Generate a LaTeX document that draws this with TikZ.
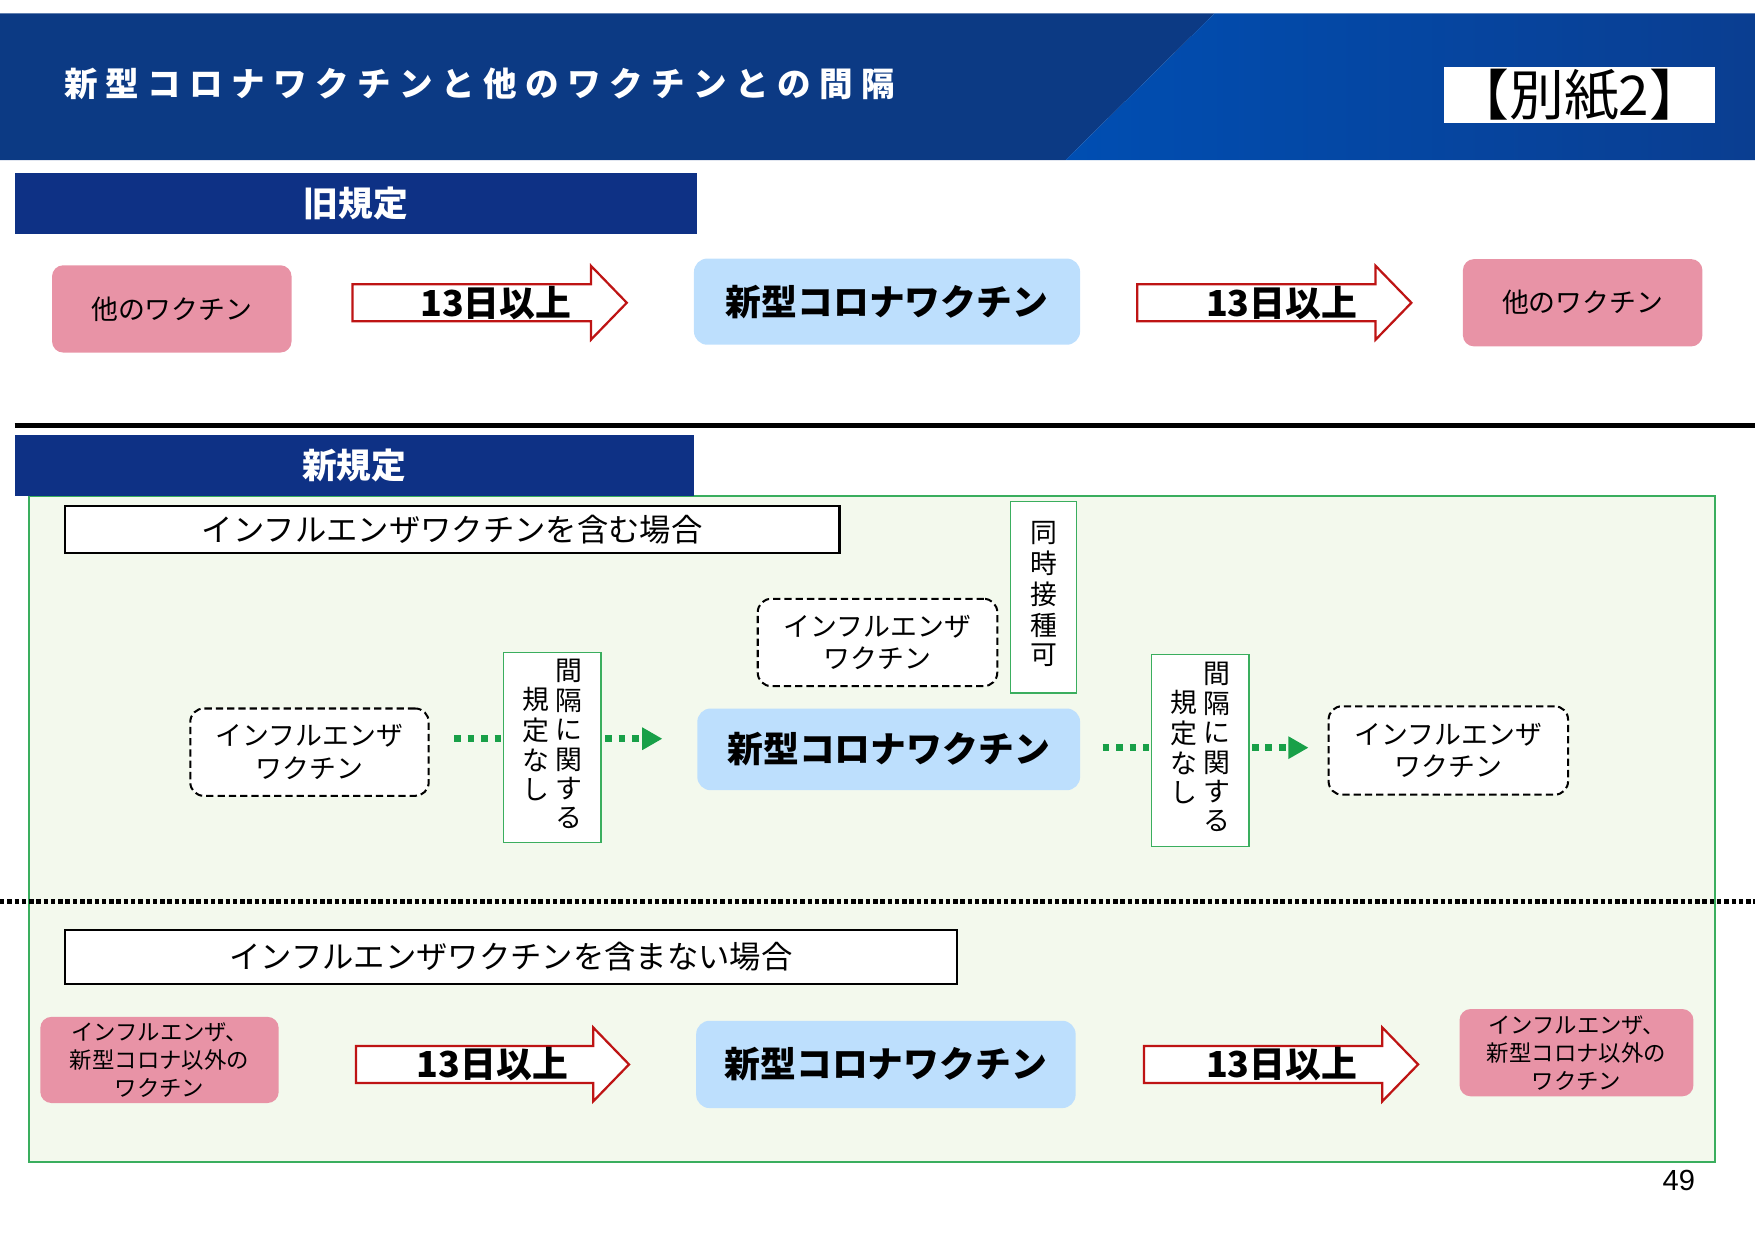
\documentclass[tikz,border=0pt]{standalone}
\usepackage{fontspec}
\setmainfont{Noto Sans CJK JP}
\newfontfamily\latinfont{Liberation Sans}
\usetikzlibrary{arrows.meta}

\definecolor{bannerdark}{RGB}{12,58,132}
\definecolor{bannerlight}{RGB}{0,78,178}
\definecolor{bannerright}{RGB}{10,62,145}
\definecolor{navy}{RGB}{14,49,133}
\definecolor{pinkbox}{RGB}{232,147,166}
\definecolor{skyblue}{RGB}{189,223,253}
\definecolor{framegreen}{RGB}{58,174,94}
\definecolor{palegreen}{RGB}{243,249,237}
\definecolor{dotgreen}{RGB}{24,160,72}
\definecolor{arrowred}{RGB}{190,20,20}

\tikzstyle{head}=[rectangle,fill=navy,text=white,inner sep=0,minimum width=610pt,minimum height=54pt,font=\bfseries\fontsize{31}{31}\selectfont]
\tikzstyle{other}=[rectangle,rounded corners=10pt,fill=pinkbox,inner sep=0,align=center,minimum width=214pt,minimum height=78pt]
\tikzstyle{covid}=[rectangle,rounded corners=12pt,fill=skyblue,inner sep=0,minimum height=77pt,font=\bfseries\fontsize{32}{32}\selectfont]
\tikzstyle{days}=[inner sep=0,font=\bfseries\fontsize{32}{32}\selectfont]
\tikzstyle{bigarrow}=[draw=arrowred,line width=2pt,fill=white,line join=miter]
\tikzstyle{case}=[rectangle,draw,line width=2pt,fill=white,inner sep=0,font=\fontsize{28}{28}\selectfont]
\tikzstyle{flu}=[rectangle,draw,line width=1.8pt,dash pattern=on 6.5pt off 3.6pt,rounded corners=12pt,fill=white,inner sep=0,align=center,minimum width=214pt,minimum height=78pt]
\tikzstyle{vbox}=[rectangle,draw=framegreen,line width=1.2pt,fill=white,inner sep=0,font=\fontsize{24}{25}\selectfont]
\tikzstyle{dotline}=[draw=dotgreen,line width=6pt,dash pattern=on 6pt off 6pt]

\begin{document}
\begin{tikzpicture}[x=1pt,y=-1pt,font=\fontsize{24}{29}\selectfont]
\useasboundingbox (0,0) rectangle (1568,1108.7);
% banner
\fill[bannerdark] (0,12) -- (1085,12) -- (952,143) -- (0,143) -- cycle;
\shade[left color=bannerlight,right color=bannerright] (1085,12) -- (1568,12) -- (1568,143) -- (952,143) -- cycle;
\node[anchor=west,inner sep=0,text=white,font=\bfseries\fontsize{30}{30}\selectfont\addfontfeature{LetterSpace=25}] (title) at (57,75) {新型コロナワクチンと他のワクチンとの間隔};
\node[rectangle,fill=white,inner sep=0,minimum width=242pt,minimum height=50pt,text height=40pt,text depth=3pt,font=\fontsize{49}{49}\selectfont] (annex) at (1411,85) {【別紙2】};

% old rule
\node[head] (oldhd) at (318,182) {旧規定};
\node[other] (oth1) at (153.5,276) {他のワクチン};
\draw[bigarrow,shift={(315,270.5)}] (0,-16.5) -- (213,-16.5) -- (213,-33) -- (245,0) -- (213,33) -- (213,16.5) -- (0,16.5) -- cycle;
\node[days] (d1) at (443,271) {13日以上};
\node[covid,minimum width=345pt] (cov1) at (792.5,269.5) {新型コロナワクチン};
\draw[bigarrow,shift={(1016,270.5)}] (0,-16.5) -- (213,-16.5) -- (213,-33) -- (245,0) -- (213,33) -- (213,16.5) -- (0,16.5) -- cycle;
\node[days] (d2) at (1145,271) {13日以上};
\node[other] (oth2) at (1414,270.5) {他のワクチン};

\draw[line width=4pt] (13,380) -- (1568,380);

% new rule
\node[rectangle,draw=framegreen,line width=1.5pt,fill=palegreen,minimum width=1506pt,minimum height=595pt] (frame) at (779,740.5) {};
\node[head,minimum width=607pt] (newhd) at (316.5,416) {新規定};
\node[case,minimum width=692pt,minimum height=42pt] (case1) at (404,473) {インフルエンザワクチンを含む場合};

\node[flu,minimum width=213pt] (flu1) at (276.5,672) {インフルエンザ\\ワクチン};
\node[vbox,minimum width=87pt,minimum height=170pt] (gap1) at (493.5,668) {\begin{tabular}{@{}c@{}}規\\定\\な\\し\end{tabular}\hspace{5pt}\begin{tabular}{@{}c@{}}間\\隔\\に\\関\\す\\る\end{tabular}};
\node[covid,minimum width=342pt,minimum height=73pt] (cov2) at (794,669.5) {新型コロナワクチン};
\node[flu] (flu2) at (784,574) {インフルエンザ\\ワクチン};
\node[vbox,minimum width=59pt,minimum height=171pt] (simul) at (932.5,533.5) {\begin{tabular}{@{}c@{}}同\\時\\接\\種\\可\end{tabular}};
\node[vbox,minimum width=87pt,minimum height=171pt] (gap2) at (1072.5,670.5) {\begin{tabular}{@{}c@{}}規\\定\\な\\し\end{tabular}\hspace{5pt}\begin{tabular}{@{}c@{}}間\\隔\\に\\関\\す\\る\end{tabular}};
\node[flu,minimum height=79pt] (flu3) at (1294,670.5) {インフルエンザ\\ワクチン};

\draw[dotline] ([xshift=22pt,yshift=12pt]flu1.east) -- ([xshift=-2pt,yshift=8pt]gap1.west);
\draw[dotline,-{Triangle[length=18pt,width=19pt]}] ([xshift=3pt,yshift=8pt]gap1.east) -- ([xshift=-31pt,yshift=9.5pt]cov2.west);
\draw[dotline] ([xshift=20pt,yshift=1.5pt]cov2.east) -- ([xshift=-2pt,yshift=2.5pt]gap2.west);
\draw[dotline,-{Triangle[length=18pt,width=19pt]}] ([xshift=2pt,yshift=2.5pt]gap2.east) -- ([xshift=-17pt,yshift=2.5pt]flu3.west);

\draw[line width=4.5pt,dash pattern=on 4pt off 2.5pt] (0,805) -- (1568,805);

\node[case,minimum width=797pt,minimum height=48pt] (case2) at (456.5,855) {インフルエンザワクチンを含まない場合};
\node[other,minimum width=213pt,minimum height=77pt,font=\fontsize{20}{25}\selectfont] (oth3) at (142.5,947) {インフルエンザ、\\新型コロナ以外の\\ワクチン};
\draw[bigarrow,shift={(318,951)}] (0,-16.5) -- (212,-16.5) -- (212,-33) -- (244,0) -- (212,33) -- (212,16.5) -- (0,16.5) -- cycle;
\node[days] (d3) at (440,951) {13日以上};
\node[covid,minimum width=339pt,minimum height=78pt] (cov3) at (791.5,951) {新型コロナワクチン};
\draw[bigarrow,shift={(1022,951)}] (0,-16.5) -- (213,-16.5) -- (213,-33) -- (245,0) -- (213,33) -- (213,16.5) -- (0,16.5) -- cycle;
\node[days] (d4) at (1145,951) {13日以上};
\node[other,minimum width=209pt,minimum height=78pt,font=\fontsize{20}{25}\selectfont] (oth4) at (1408.5,940.5) {インフルエンザ、\\新型コロナ以外の\\ワクチン};

\node[inner sep=0,font=\latinfont\fontsize{26}{26}\selectfont] (page) at (1500,1055) {49};
\end{tikzpicture}
\end{document}
